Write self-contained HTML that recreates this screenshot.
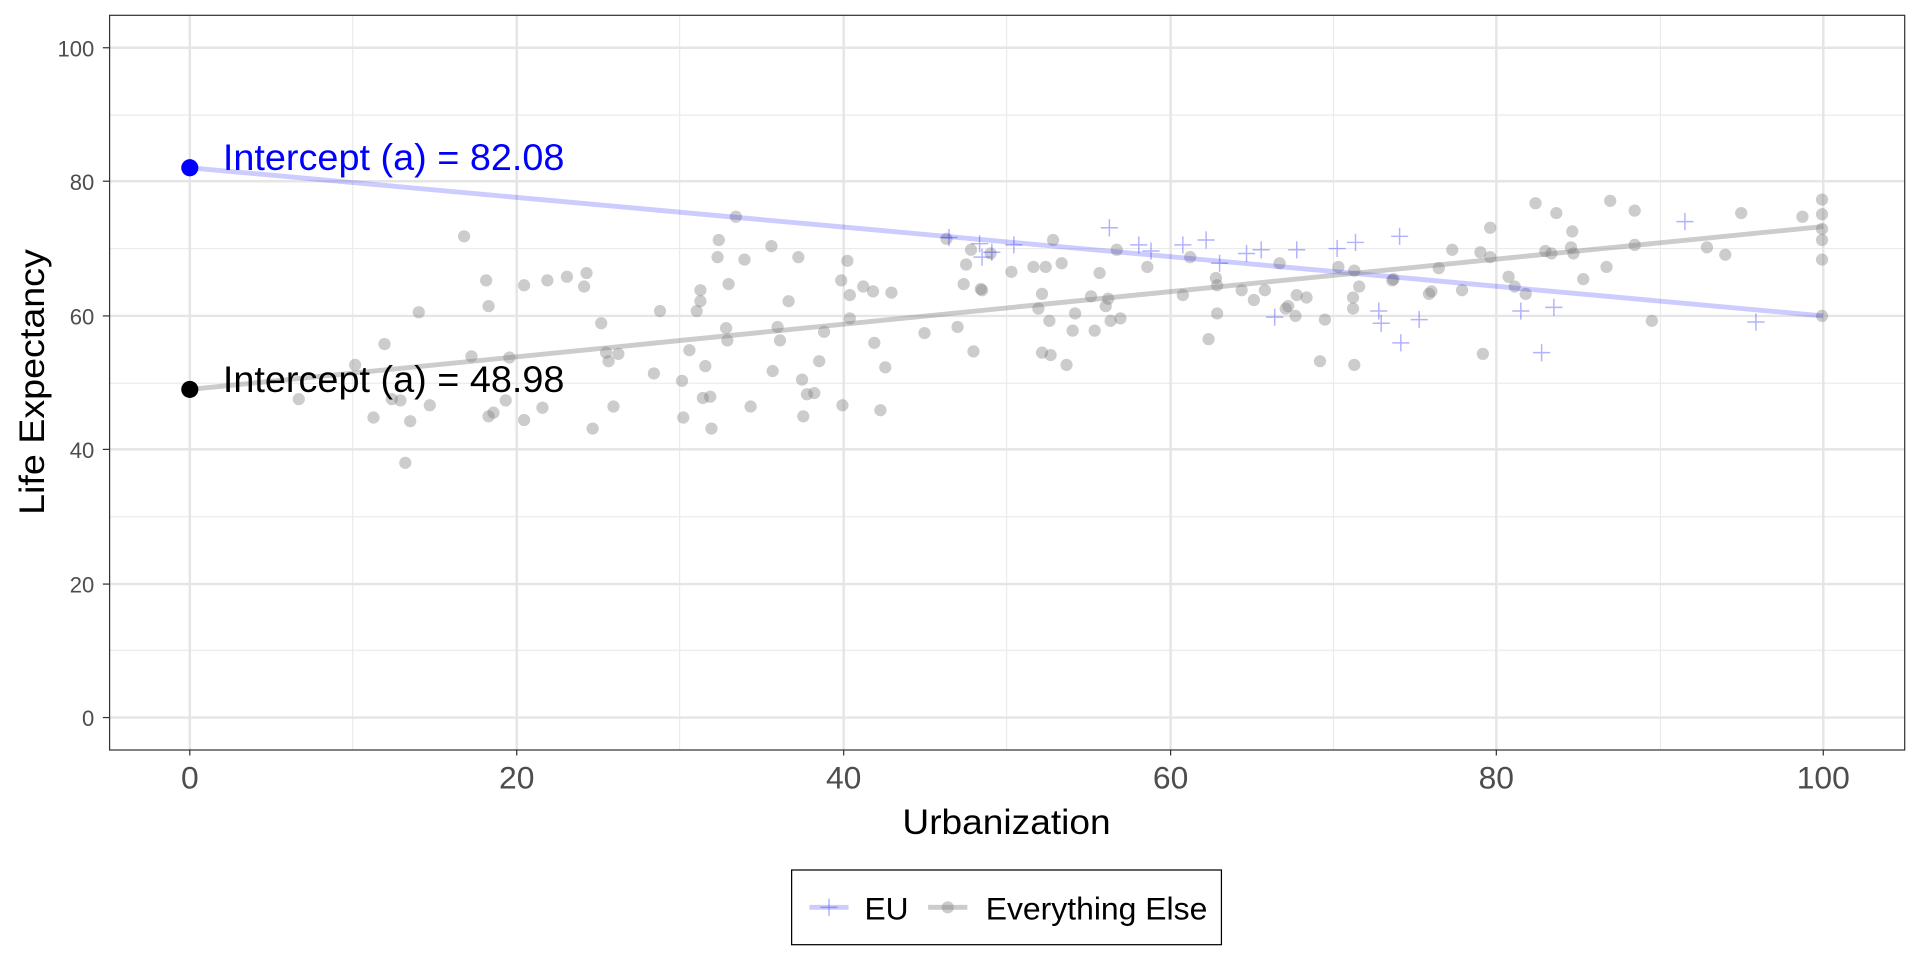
<!DOCTYPE html>
<html><head><meta charset="utf-8"><style>html,body{margin:0;padding:0;background:#fff}svg{display:block}</style></head>
<body>
<svg width="1920" height="960" viewBox="0 0 1568 784" xmlns="http://www.w3.org/2000/svg" font-family="Liberation Sans, Arial, sans-serif">
<rect x="0" y="0" width="1568" height="784" fill="#fff"/>
<g stroke="#ebebeb" stroke-width="1">
<line x1="89" x2="1555" y1="531" y2="531"/><line x1="89" x2="1555" y1="422" y2="422"/><line x1="89" x2="1555" y1="313" y2="313"/><line x1="89" x2="1555" y1="203" y2="203"/><line x1="89" x2="1555" y1="94" y2="94"/>
<line x1="288" x2="288" y1="12" y2="612"/><line x1="555" x2="555" y1="12" y2="612"/><line x1="822" x2="822" y1="12" y2="612"/><line x1="1089" x2="1089" y1="12" y2="612"/><line x1="1356" x2="1356" y1="12" y2="612"/>
</g>
<g stroke="#e5e5e5" stroke-width="2">
<line x1="89" x2="1555" y1="586" y2="586"/><line x1="89" x2="1555" y1="477" y2="477"/><line x1="89" x2="1555" y1="367" y2="367"/><line x1="89" x2="1555" y1="258" y2="258"/><line x1="89" x2="1555" y1="148" y2="148"/><line x1="89" x2="1555" y1="39" y2="39"/>
<line x1="155" x2="155" y1="12" y2="612"/><line x1="422" x2="422" y1="12" y2="612"/><line x1="689" x2="689" y1="12" y2="612"/><line x1="956" x2="956" y1="12" y2="612"/><line x1="1222" x2="1222" y1="12" y2="612"/><line x1="1489" x2="1489" y1="12" y2="612"/>
</g>
<g fill="#7f7f7f" fill-opacity="0.4">
<circle cx="244" cy="326" r="5"/><circle cx="290" cy="298" r="5"/><circle cx="305" cy="341" r="5"/><circle cx="314" cy="281" r="5"/><circle cx="320" cy="326" r="5"/><circle cx="327" cy="327" r="5"/><circle cx="331" cy="378" r="5"/><circle cx="335" cy="344" r="5"/><circle cx="342" cy="255" r="5"/><circle cx="351" cy="331" r="5"/><circle cx="379" cy="193" r="5"/><circle cx="385" cy="291" r="5"/><circle cx="397" cy="229" r="5"/><circle cx="399" cy="250" r="5"/><circle cx="399" cy="340" r="5"/><circle cx="403" cy="337" r="5"/><circle cx="413" cy="327" r="5"/><circle cx="416" cy="292" r="5"/><circle cx="428" cy="233" r="5"/><circle cx="428" cy="343" r="5"/><circle cx="443" cy="333" r="5"/><circle cx="447" cy="229" r="5"/><circle cx="463" cy="226" r="5"/><circle cx="477" cy="234" r="5"/><circle cx="479" cy="223" r="5"/><circle cx="484" cy="350" r="5"/><circle cx="491" cy="264" r="5"/><circle cx="495" cy="288" r="5"/><circle cx="497" cy="295" r="5"/><circle cx="501" cy="332" r="5"/><circle cx="505" cy="289" r="5"/><circle cx="534" cy="305" r="5"/><circle cx="539" cy="254" r="5"/><circle cx="557" cy="311" r="5"/><circle cx="558" cy="341" r="5"/><circle cx="563" cy="286" r="5"/><circle cx="569" cy="254" r="5"/><circle cx="572" cy="246" r="5"/><circle cx="572" cy="237" r="5"/><circle cx="574" cy="325" r="5"/><circle cx="576" cy="299" r="5"/><circle cx="580" cy="324" r="5"/><circle cx="581" cy="350" r="5"/><circle cx="586" cy="210" r="5"/><circle cx="587" cy="196" r="5"/><circle cx="593" cy="268" r="5"/><circle cx="594" cy="278" r="5"/><circle cx="595" cy="232" r="5"/><circle cx="601" cy="177" r="5"/><circle cx="608" cy="212" r="5"/><circle cx="613" cy="332" r="5"/><circle cx="630" cy="201" r="5"/><circle cx="631" cy="303" r="5"/><circle cx="635" cy="267" r="5"/><circle cx="637" cy="278" r="5"/><circle cx="644" cy="246" r="5"/><circle cx="652" cy="210" r="5"/><circle cx="655" cy="310" r="5"/><circle cx="656" cy="340" r="5"/><circle cx="659" cy="322" r="5"/><circle cx="665" cy="321" r="5"/><circle cx="669" cy="295" r="5"/><circle cx="673" cy="271" r="5"/><circle cx="687" cy="229" r="5"/><circle cx="688" cy="331" r="5"/><circle cx="692" cy="213" r="5"/><circle cx="694" cy="241" r="5"/><circle cx="694" cy="260" r="5"/><circle cx="705" cy="234" r="5"/><circle cx="713" cy="238" r="5"/><circle cx="714" cy="280" r="5"/><circle cx="719" cy="335" r="5"/><circle cx="723" cy="300" r="5"/><circle cx="728" cy="239" r="5"/><circle cx="755" cy="272" r="5"/><circle cx="773" cy="195" r="5"/><circle cx="782" cy="267" r="5"/><circle cx="787" cy="232" r="5"/><circle cx="789" cy="216" r="5"/><circle cx="793" cy="204" r="5"/><circle cx="795" cy="287" r="5"/><circle cx="801" cy="236" r="5"/><circle cx="802" cy="237" r="5"/><circle cx="809" cy="207" r="5"/><circle cx="826" cy="222" r="5"/><circle cx="844" cy="218" r="5"/><circle cx="848" cy="252" r="5"/><circle cx="851" cy="240" r="5"/><circle cx="851" cy="288" r="5"/><circle cx="854" cy="218" r="5"/><circle cx="857" cy="262" r="5"/><circle cx="858" cy="290" r="5"/><circle cx="860" cy="196" r="5"/><circle cx="867" cy="215" r="5"/><circle cx="871" cy="298" r="5"/><circle cx="876" cy="270" r="5"/><circle cx="878" cy="256" r="5"/><circle cx="891" cy="242" r="5"/><circle cx="894" cy="270" r="5"/><circle cx="898" cy="223" r="5"/><circle cx="903" cy="250" r="5"/><circle cx="905" cy="244" r="5"/><circle cx="907" cy="262" r="5"/><circle cx="912" cy="204" r="5"/><circle cx="915" cy="260" r="5"/><circle cx="937" cy="218" r="5"/><circle cx="966" cy="241" r="5"/><circle cx="972" cy="210" r="5"/><circle cx="987" cy="277" r="5"/><circle cx="993" cy="227" r="5"/><circle cx="994" cy="233" r="5"/><circle cx="994" cy="256" r="5"/><circle cx="1014" cy="237" r="5"/><circle cx="1024" cy="245" r="5"/><circle cx="1033" cy="237" r="5"/><circle cx="1045" cy="215" r="5"/><circle cx="1050" cy="252" r="5"/><circle cx="1052" cy="250" r="5"/><circle cx="1058" cy="258" r="5"/><circle cx="1059" cy="241" r="5"/><circle cx="1067" cy="243" r="5"/><circle cx="1078" cy="295" r="5"/><circle cx="1082" cy="261" r="5"/><circle cx="1093" cy="218" r="5"/><circle cx="1105" cy="243" r="5"/><circle cx="1105" cy="252" r="5"/><circle cx="1106" cy="298" r="5"/><circle cx="1106" cy="221" r="5"/><circle cx="1110" cy="234" r="5"/><circle cx="1137" cy="229" r="5"/><circle cx="1138" cy="228" r="5"/><circle cx="1167" cy="240" r="5"/><circle cx="1169" cy="238" r="5"/><circle cx="1175" cy="219" r="5"/><circle cx="1186" cy="204" r="5"/><circle cx="1194" cy="237" r="5"/><circle cx="1209" cy="206" r="5"/><circle cx="1211" cy="289" r="5"/><circle cx="1217" cy="210" r="5"/><circle cx="1217" cy="186" r="5"/><circle cx="1232" cy="226" r="5"/><circle cx="1237" cy="234" r="5"/><circle cx="1246" cy="240" r="5"/><circle cx="1254" cy="166" r="5"/><circle cx="1262" cy="205" r="5"/><circle cx="1267" cy="207" r="5"/><circle cx="1271" cy="174" r="5"/><circle cx="1283" cy="202" r="5"/><circle cx="1284" cy="189" r="5"/><circle cx="1285" cy="207" r="5"/><circle cx="1293" cy="228" r="5"/><circle cx="1312" cy="218" r="5"/><circle cx="1315" cy="164" r="5"/><circle cx="1335" cy="172" r="5"/><circle cx="1335" cy="200" r="5"/><circle cx="1349" cy="262" r="5"/><circle cx="1394" cy="202" r="5"/><circle cx="1409" cy="208" r="5"/><circle cx="1422" cy="174" r="5"/><circle cx="1472" cy="177" r="5"/><circle cx="1488" cy="163" r="5"/><circle cx="1488" cy="175" r="5"/><circle cx="1488" cy="187" r="5"/><circle cx="1488" cy="196" r="5"/><circle cx="1488" cy="212" r="5"/><circle cx="1488" cy="258" r="5"/>
</g>
<g stroke="#0000ff" stroke-opacity="0.3" stroke-width="1.2">
<path d="M768 194h14M775 187v14M793 199h14M800 192v14M795 210h14M802 203v14M803 206h14M810 199v14M821 200h14M828 193v14M899 186h14M906 179v14M923 200h14M930 193v14M933 205h14M940 198v14M959 200h14M966 193v14M978 196h14M985 189v14M989 215h14M996 208v14M1011 207h14M1018 200v14M1023 204h14M1030 197v14M1034 259h14M1041 252v14M1052 204h14M1059 197v14M1085 203h14M1092 196v14M1100 198h14M1107 191v14M1119 254h14M1126 247v14M1121 264h14M1128 257v14M1136 193h14M1143 186v14M1137 280h14M1144 273v14M1152 261h14M1159 254v14M1235 254h14M1242 247v14M1252 288h14M1259 281v14M1262 251h14M1269 244v14M1369 181h14M1376 174v14M1427 263h14M1434 256v14"/>
</g>
<line x1="155" y1="137" x2="1489" y2="258" stroke="#0000ff" stroke-opacity="0.2" stroke-width="4"/>
<line x1="155" y1="318" x2="1489" y2="185" stroke="#7f7f7f" stroke-opacity="0.4" stroke-width="4"/>
<circle cx="155" cy="137" r="7" fill="#0000ff"/>
<circle cx="155" cy="318" r="7" fill="#000"/>
<text x="182" y="139" font-size="30" textLength="279" lengthAdjust="spacingAndGlyphs" fill="#0000ff">Intercept (a) = 82.08</text>
<text x="182" y="320" font-size="30" textLength="279" lengthAdjust="spacingAndGlyphs" fill="#000">Intercept (a) = 48.98</text>
<rect x="89.5" y="12.5" width="1466" height="600" fill="none" stroke="#333" stroke-width="1"/>
<g stroke="#333" stroke-width="1">
<line x1="84" x2="89" y1="586" y2="586"/><line x1="84" x2="89" y1="477" y2="477"/><line x1="84" x2="89" y1="367" y2="367"/><line x1="84" x2="89" y1="258" y2="258"/><line x1="84" x2="89" y1="148" y2="148"/><line x1="84" x2="89" y1="39" y2="39"/>
<line x1="155" x2="155" y1="612" y2="617"/><line x1="422" x2="422" y1="612" y2="617"/><line x1="689" x2="689" y1="612" y2="617"/><line x1="956" x2="956" y1="612" y2="617"/><line x1="1222" x2="1222" y1="612" y2="617"/><line x1="1489" x2="1489" y1="612" y2="617"/>
</g>
<g font-size="18" fill="#4d4d4d" text-anchor="end">
<text x="77" y="593">0</text><text x="77" y="484">20</text><text x="77" y="374">40</text><text x="77" y="265">60</text><text x="77" y="155">80</text><text x="77" y="46">100</text>
</g>
<g font-size="26" fill="#4d4d4d" text-anchor="middle">
<text x="155" y="644">0</text><text x="422" y="644">20</text><text x="689" y="644">40</text><text x="956" y="644">60</text><text x="1222" y="644">80</text><text x="1489" y="644">100</text>
</g>
<text x="822" y="681" font-size="29" text-anchor="middle" fill="#000" textLength="170" lengthAdjust="spacingAndGlyphs">Urbanization</text>
<text transform="translate(36,312) rotate(-90)" font-size="29" text-anchor="middle" fill="#000" textLength="217" lengthAdjust="spacingAndGlyphs">Life Expectancy</text>
<rect x="646.5" y="710.5" width="351" height="61" fill="#fff" stroke="#000" stroke-width="1"/>
<line x1="661" x2="693" y1="741" y2="741" stroke="#0000ff" stroke-opacity="0.2" stroke-width="4"/>
<path d="M670 741h14M677 734v14" stroke="#0000ff" stroke-opacity="0.3" stroke-width="1.2"/>
<text x="706" y="751" font-size="26" textLength="36" lengthAdjust="spacingAndGlyphs">EU</text>
<line x1="758" x2="790" y1="741" y2="741" stroke="#7f7f7f" stroke-opacity="0.4" stroke-width="4"/>
<circle cx="774" cy="741" r="5" fill="#7f7f7f" fill-opacity="0.4"/>
<text x="805" y="751" font-size="26" textLength="181" lengthAdjust="spacingAndGlyphs">Everything Else</text>
</svg>
</body></html>
